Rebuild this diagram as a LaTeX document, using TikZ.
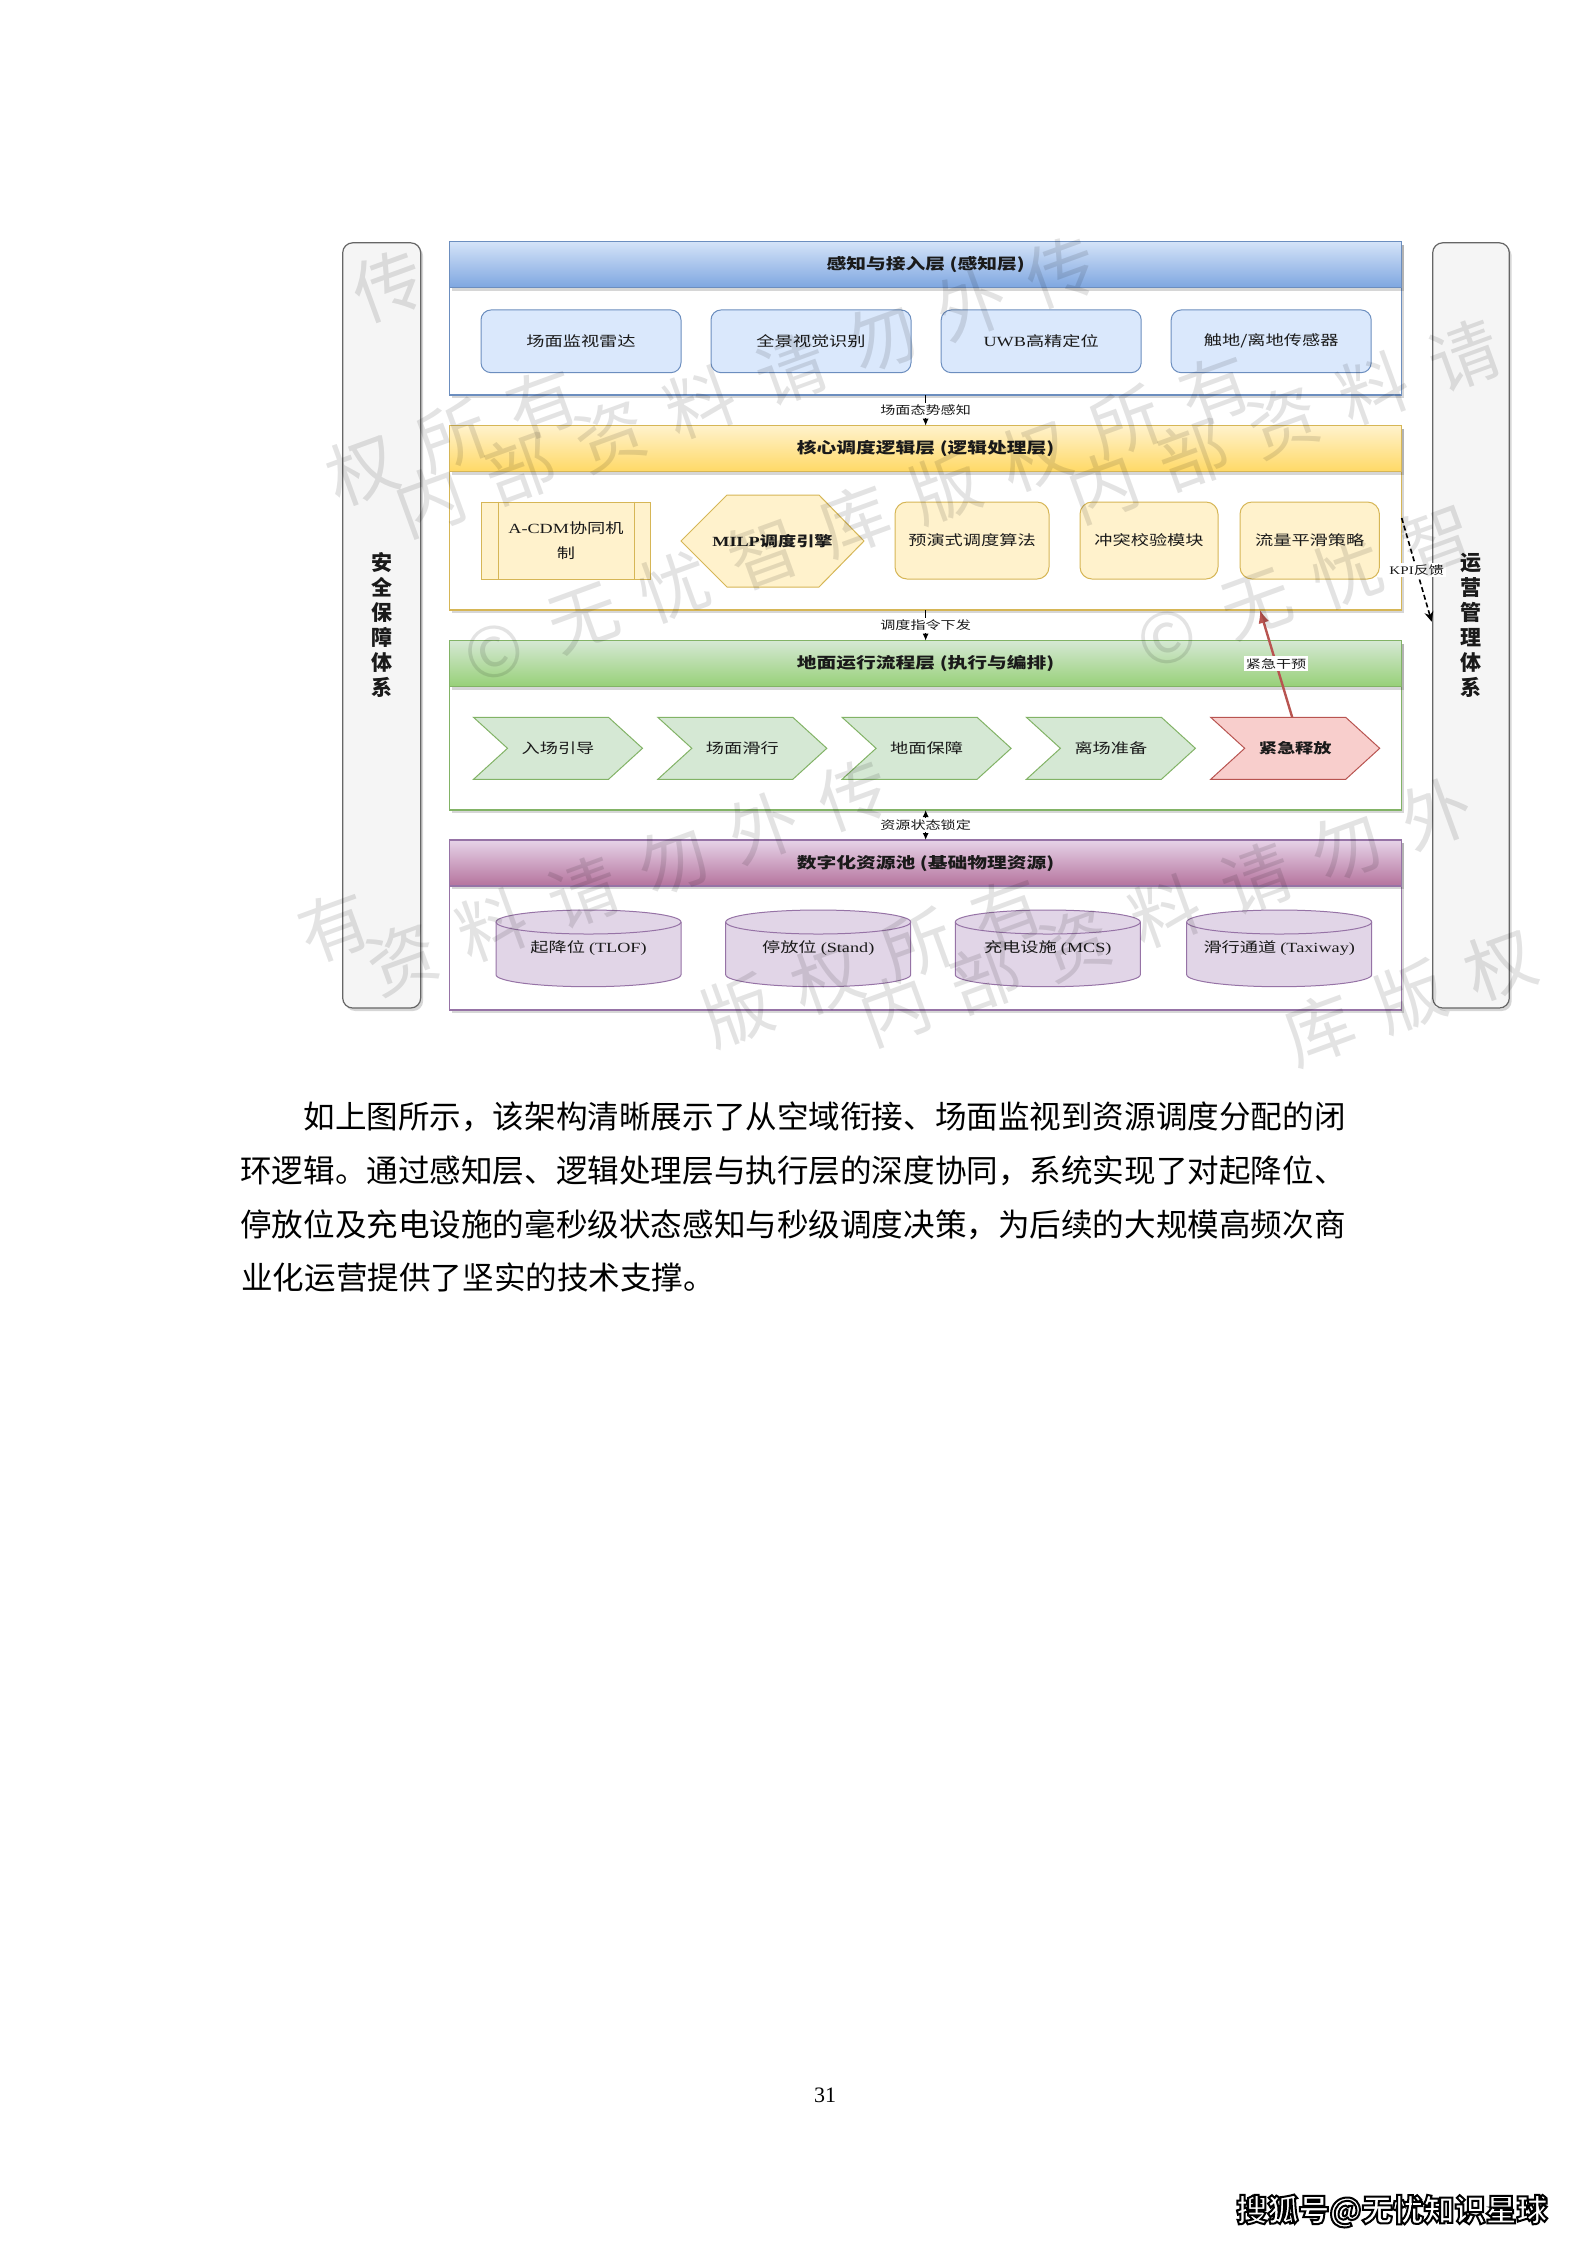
\documentclass[tikz,border=0pt]{standalone}
\usepackage{fontspec}
\setmainfont{Liberation Serif}
\newfontfamily\cjk{Noto Sans CJK SC}
\newfontfamily\dgz[FakeStretch=1.3]{Noto Sans CJK SC}
\newfontfamily\dgl[FakeStretch=1.3]{Liberation Serif}
\usetikzlibrary{calc,arrows.meta}
\definecolor{bBd}{HTML}{6C8EBF}
\definecolor{bFi}{HTML}{DAE8FC}
\definecolor{bTop}{HTML}{D4E3F8}
\definecolor{bBot}{HTML}{7EA6E0}
\definecolor{yBd}{HTML}{D6B656}
\definecolor{yFi}{HTML}{FFF2CC}
\definecolor{yBot}{HTML}{FFD966}
\definecolor{gBd}{HTML}{82B366}
\definecolor{gFi}{HTML}{D5E8D4}
\definecolor{gBot}{HTML}{97D077}
\definecolor{pBd}{HTML}{9673A6}
\definecolor{pFi}{HTML}{E1D5E7}
\definecolor{pTop}{HTML}{E6D3E8}
\definecolor{pBot}{HTML}{B5739D}
\definecolor{rBd}{HTML}{B85450}
\definecolor{rFi}{HTML}{F8CECC}
\definecolor{pil}{HTML}{F5F5F5}
\definecolor{pilBd}{HTML}{666666}
\definecolor{txt}{HTML}{1A1A1A}
\begin{document}
\begin{tikzpicture}[x=0.5pt,y=-0.5pt,
  shad/.style={preaction={fill=black,opacity=0.16,transform canvas={xshift=1.2pt,yshift=-1.5pt}}},
  layer/.style={draw=#1,line width=0.75pt,fill=white,minimum width=476pt,inner sep=0pt,outer sep=0pt,shad},
  hdr/.style n args={3}{draw=#1,top color=#2,bottom color=#3,line width=0.75pt,minimum width=476pt,minimum height=23pt,inner sep=0pt,outer sep=0pt,anchor=north,font=\dgz\bfseries\fontsize{7.6}{9}\selectfont,text=txt,shad},
  box/.style 2 args={draw=#1,fill=#2,line width=0.5pt,rounded corners=5pt,minimum height=31.35pt,inner sep=0pt,font=\dgz\fontsize{7}{8.4}\selectfont,text=txt,align=center},
  ybox/.style={draw=yBd,fill=yFi,line width=0.5pt,rounded corners=6pt,minimum height=38.5pt,inner sep=0pt,font=\dgz\fontsize{7}{8.4}\selectfont,text=txt,align=center},
  lbl/.style={inner sep=0pt,font=\dgz\fontsize{7}{8.4}\selectfont,text=txt},
  clab/.style={fill=white,inner sep=1pt,font=\dgz\fontsize{5.8}{7}\selectfont,text=txt},
  conn/.style={line width=0.6pt,draw=black,-{Latex[length=3.5pt,width=3pt]}},
  chev/.style 2 args={draw=#1,fill=#2,line width=0.5pt},
  cylsty/.style={draw=pBd,fill=pFi,line width=0.5pt},
  pillar/.style={draw=pilBd,fill=pil,line width=0.6pt,rounded corners=5pt,minimum width=39pt,minimum height=382.6pt,inner sep=0pt,shad,align=center,font=\cjk\bfseries\fontsize{10.5}{12.5}\selectfont,text=txt},
  body/.style={inner sep=0pt,font=\cjk\fontsize{15.79}{18}\selectfont,text=black},
  wmc/.style={font=\cjk\fontsize{35}{40}\selectfont,text=black,opacity=0.11,rotate=20,inner sep=0pt}
]
\fill[white] (0,0) rectangle (1587,2245);
\useasboundingbox (0,0) rectangle (1587,2245);

% side pillars
\node[pillar] (L) at (381.7,625.4) {安\\全\\保\\障\\体\\系};
\node[pillar,minimum width=38.3pt] (R) at (1471,625.4) {运\\营\\管\\理\\体\\系};

% layers
\node[layer=bBd,minimum height=76.65pt] (Lb) at (925.65,318.35) {};
\node[hdr={bBd}{bTop}{bBot}] (Hb) at (Lb.north) {感知与接入层 (感知层)};
\node[layer=yBd,minimum height=92.15pt] (Ly) at (925.65,517.85) {};
\node[hdr={yBd}{yFi}{yBot}] (Hy) at (Ly.north) {核心调度逻辑层 (逻辑处理层)};
\node[layer=gBd,minimum height=84.65pt] (Lg) at (925.65,725.35) {};
\node[hdr={gBd}{gFi}{gBot}] (Hg) at (Lg.north) {地面运行流程层 (执行与编排)};
\node[layer=pBd,minimum height=85pt] (Lp) at (925.65,925) {};
\node[hdr={pBd}{pTop}{pBot}] (Hp) at (Lp.north) {数字化资源池 (基础物理资源)};

% perception layer boxes
\node[box={bBd}{bFi},minimum width=100pt] (s1) at (581,341.3) {场面监视雷达};
\node[box={bBd}{bFi},minimum width=100pt] (s2) at (811,341.3) {全景视觉识别};
\node[box={bBd}{bFi},minimum width=100pt] (s3) at (1041.2,341.3) {{\dgl UWB}高精定位};
\node[box={bBd}{bFi},minimum width=100pt] (s4) at (1271.2,341.3) {触地/离地传感器};

% logic layer
\node[draw=yBd,fill=yFi,line width=0.5pt,minimum width=84.5pt,minimum height=38.5pt,inner sep=0pt,
      font=\dgz\fontsize{7}{12.5}\selectfont,text=txt,align=center] (acdm) at (566,540.5) {{\dgl A-CDM}协同机\\制};
\draw[yBd,line width=0.5pt] ($(acdm.north west)+(17,0)$) -- ($(acdm.south west)+(17,0)$);
\draw[yBd,line width=0.5pt] ($(acdm.north east)+(-17,0)$) -- ($(acdm.south east)+(-17,0)$);
\coordinate (hexc) at (772.5,541);
\path[draw=yBd,fill=yFi,line width=0.5pt] ($(hexc)+(-91.5,0)$) -- ($(hexc)+(-45.5,-46)$) -- ($(hexc)+(46.5,-46)$)
   -- ($(hexc)+(91.5,0)$) -- ($(hexc)+(46.5,46)$) -- ($(hexc)+(-45.5,46)$) -- cycle;
\node[lbl,font=\dgz\bfseries\fontsize{7}{8.4}\selectfont] (milp) at (hexc) {{\dgl\bfseries MILP}调度引擎};
\node[ybox,minimum width=77pt] (y3) at (972,540.5) {预演式调度算法};
\node[ybox,minimum width=69pt] (y4) at (1149,540.5) {冲突校验模块};
\node[ybox,minimum width=69.7pt] (y5) at (1309.7,540.5) {流量平滑策略};

% execution layer chevrons
\foreach \i/\xx/\t in {1/558/入场引导,2/742.3/场面滑行,3/926.6/地面保障,4/1110.9/离场准备}{
  \coordinate (ce\i) at (\xx,748.3);
  \path[chev={gBd}{gFi}] ($(ce\i)+(-84.5,-31)$) -- ($(ce\i)+(50.5,-31)$) -- ($(ce\i)+(84.5,0)$)
     -- ($(ce\i)+(50.5,31)$) -- ($(ce\i)+(-84.5,31)$) -- ($(ce\i)+(-50.5,0)$) -- cycle;
  \node[lbl] (e\i) at (ce\i) {\t};
}
\coordinate (ce5) at (1295.2,748.3);
\path[chev={rBd}{rFi}] ($(ce5)+(-84.5,-31)$) -- ($(ce5)+(50.5,-31)$) -- ($(ce5)+(84.5,0)$)
   -- ($(ce5)+(50.5,31)$) -- ($(ce5)+(-84.5,31)$) -- ($(ce5)+(-50.5,0)$) -- cycle;
\node[lbl,font=\dgz\bfseries\fontsize{7}{8.4}\selectfont] (e5) at (ce5) {紧急释放};

% resource cylinders
\foreach \i/\xx/\t in {1/588.5/{起降位 {\dgl (TLOF)}},2/818.2/{停放位 {\dgl (Stand)}},3/1047.8/{充电设施 {\dgl (MCS)}},4/1279.2/{滑行通道 {\dgl (Taxiway)}}}{
  \coordinate (cc\i) at (\xx,948.35);
  \path[cylsty] ($(cc\i)+(-92.5,-26.35)$) -- ($(cc\i)+(-92.5,26.35)$)
     arc[start angle=180,end angle=0,x radius=92.5,y radius=12]
     -- ($(cc\i)+(92.5,-26.35)$)
     arc[start angle=0,end angle=-180,x radius=92.5,y radius=12] -- cycle;
  \draw[pBd,line width=0.5pt] ($(cc\i)+(-92.5,-26.35)$) arc[start angle=180,end angle=0,x radius=92.5,y radius=12];
  \node[lbl] (cy\i) at (cc\i) {\t};
}

% inter-layer connectors
\draw[conn] (Lb.south) -- (Ly.north) node[clab,midway] (k1) {场面态势感知};
\draw[conn] (Ly.south) -- (Lg.north) node[clab,midway] (k2) {调度指令下发};
\draw[conn,{Latex[length=3.5pt,width=3pt]}-{Latex[length=3.5pt,width=3pt]}] (Lg.south) -- (Lp.north) node[clab,midway] (k3) {资源状态锁定};

% emergency intervention
\coordinate (redS) at ($(ce5)+(-3,-31)$);
\coordinate (redE) at (1260,610);
\draw[rBd,line width=1.2pt,-{Latex[length=6.5pt,width=5.5pt]}] (redS) -- (redE) node[clab,pos=0.5] (k4) {紧急干预};

% KPI feedback
\coordinate (kpiS) at (1401.7,518);
\coordinate (kpiE) at (1431.7,621.7);
\draw[black,line width=0.8pt,dash pattern=on 2.5pt off 1.5pt,-{Stealth[length=5pt,width=4.5pt]}] (kpiS) -- (kpiE) node[clab,pos=0.5] (k5) {{\dgl KPI}反馈};

% body text
\node[body,anchor=base east] (t1) at (1346,1128) {如上图所示，该架构清晰展示了从空域衔接、场面监视到资源调度分配的闭};
\node[body,anchor=base east] (t2) at (1346,1182) {环逻辑。通过感知层、逻辑处理层与执行层的深度协同，系统实现了对起降位、};
\node[body,anchor=base east] (t3) at (1346,1236) {停放位及充电设施的毫秒级状态感知与秒级调度决策，为后续的大规模高频次商};
\node[body,anchor=base west] (t4) at (241,1289) {业化运营提供了坚实的技术支撑。};

% page number
\node[inner sep=0pt,font=\fontsize{11}{13}\selectfont] (pg) at (825,2095.5) {31};

% source mark
\node[inner sep=0pt,font=\cjk\bfseries\fontsize{15.5}{18}\selectfont,text=white] (sohu) at (1392,2211)
  {\special{pdf:literal direct 0 G 1 w 2 Tr}搜狐号@无忧知识星球\special{pdf:literal direct 0 Tr}};

% watermark (single characters, kept inside the figure area)
\foreach \r in {-1,0,1}{
  \foreach \c in {-1,0,1,2}{
    \foreach \k/\ch in {0/内,1/部,2/资,3/料,4/请,5/勿,6/外,7/传}{
      \pgfmathsetmacro\px{430+673*\c-208*\r+90.2*\k}
      \pgfmathsetmacro\py{501-14*\c+523*\r-32.8*\k}
      \pgfmathtruncatemacro\ok{and(and(\px>330,\px<1526),and(\py>215,\py<1033))}
      \ifnum\ok=1 \node[wmc] (wa\r\c\k) at (\px,\py) {\ch};\fi
    }
    \foreach \k/\ch in {0/©,1/无,2/忧,3/智,4/库,5/版,6/权,7/所,8/有}{
      \pgfmathsetmacro\px{494+673*\c-208*\r+90.2*\k}
      \pgfmathsetmacro\py{652-14*\c+523*\r-32.8*\k}
      \pgfmathtruncatemacro\ok{and(and(\px>330,\px<1526),and(\py>215,\py<1033))}
      \ifnum\ok=1 \node[wmc] (wb\r\c\k) at (\px,\py) {\ch};\fi
    }
  }
}
\end{tikzpicture}
\end{document}
